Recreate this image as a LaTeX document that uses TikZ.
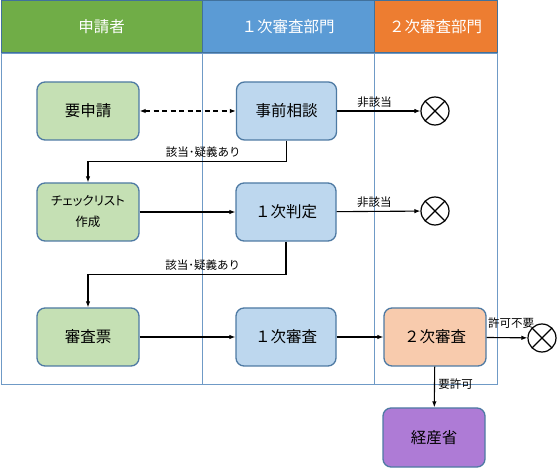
\documentclass[tikz,border=0pt]{standalone}
\usepackage{fontspec}
\setmainfont{Noto Sans CJK JP}
\newfontfamily\paltfont[RawFeature=+palt]{Noto Sans CJK JP}
\usetikzlibrary{arrows.meta,shapes,backgrounds}

\definecolor{hdgreen}{HTML}{70AD47}
\definecolor{hdblue}{HTML}{5B9BD5}
\definecolor{hdorange}{HTML}{ED7D31}
\definecolor{hdline}{HTML}{41719C}
\definecolor{laneline}{HTML}{6F9AC6}
\definecolor{boxline}{HTML}{4E7AA3}
\definecolor{fgreen}{HTML}{C5E0B4}
\definecolor{fblue}{HTML}{BDD7EE}
\definecolor{forange}{HTML}{F8CBAD}
\definecolor{fpurple}{HTML}{AE7BD6}

\begin{document}
\begin{tikzpicture}[->,>={Latex[length=6pt,width=4.5pt]},x=1pt,y=-1pt,semithick,line width=1.1pt]
        \tikzstyle{hdr}=[rectangle,draw=hdline,line width=1pt,text=white,minimum height=52pt,font=\fontsize{15.5}{18}\selectfont]
        \tikzstyle{lane}=[draw=laneline,line width=0.9pt]
        \tikzstyle{box}=[rectangle,rounded corners=8pt,draw=boxline,line width=1.3pt,minimum width=102pt,minimum height=58pt,font=\fontsize{15.5}{18}\selectfont]
        \tikzstyle{lbl}=[font=\fontsize{11.5}{13}\selectfont,text=black]
        \tikzstyle{endmark}=[circle,draw=black,line width=1.2pt,minimum size=28pt,inner sep=0pt,
          path picture={\draw[-,line width=1.2pt] (path picture bounding box.north west) -- (path picture bounding box.south east)
            (path picture bounding box.north east) -- (path picture bounding box.south west);}]

        \useasboundingbox (0,0) rectangle (558,468);

        % lanes
        \draw[-,lane] (1,53) rectangle (202,384);
        \draw[-,lane] (202,53) rectangle (374,384);
        \draw[-,lane] (374,53) rectangle (497,384);

        \node[hdr,fill=hdgreen,minimum width=201pt]  (hdapp)    at (101.5,27) {申請者};
        \node[hdr,fill=hdblue,minimum width=172pt]   (hdfirst)  at (288,27)   {１次審査部門};
        \node[hdr,fill=hdorange,minimum width=123pt] (hdsecond) at (435.5,27) {２次審査部門};

        % boxes
        \node[box,fill=fgreen]  (req)     at (88,111)   {要申請};
        \node[box,fill=fblue,minimum width=100pt] (consult) at (286.5,111) {事前相談};
        \node[box,fill=fgreen,align=center,font=\fontsize{12.5}{21}\selectfont] (check) at (88,212)
          {{\paltfont チェックリスト}\\作成};
        \node[box,fill=fblue,minimum width=100pt] (judge1)  at (286,212)   {１次判定};
        \node[box,fill=fgreen]  (sheet)   at (88,337)   {審査票};
        \node[box,fill=fblue,minimum width=100pt] (review1) at (286,337)   {１次審査};
        \node[box,fill=forange] (review2) at (435,337)  {２次審査};
        \node[box,fill=fpurple,minimum height=59pt] (meti) at (434,437.5) {経産省};

        \node[endmark] (end1) at (435,111) {};
        \node[endmark] (end2) at (435,211) {};
        \node[endmark] (end3) at (542,338) {};

        % flows
        \draw[<->,dash pattern=on 5pt off 3.5pt,line width=1.3pt] (req) -- (consult);
        \draw (consult.south) -- ++(0,21) -| node[lbl,above,pos=0.21] {該当･疑義あり} (check.north);
        \draw (judge1.south) -- ++(0,33) -| node[lbl,above,pos=0.21] {該当･疑義あり} (sheet.north);

        \path (consult) edge node[lbl,above,pos=0.45] {非該当} (end1);
        \path (check)   edge (judge1);
        \path (judge1)  edge node[lbl,above,pos=0.45] {非該当} (end2);
        \path (sheet)   edge (review1);
        \path (review1) edge (review2);
        \path (review2) edge node[lbl,above=5pt,pos=0.6] {許可不要} (end3);
        \path (review2) edge node[lbl,right,pos=0.43] {要許可} (meti);
      \end{tikzpicture}
\end{document}
